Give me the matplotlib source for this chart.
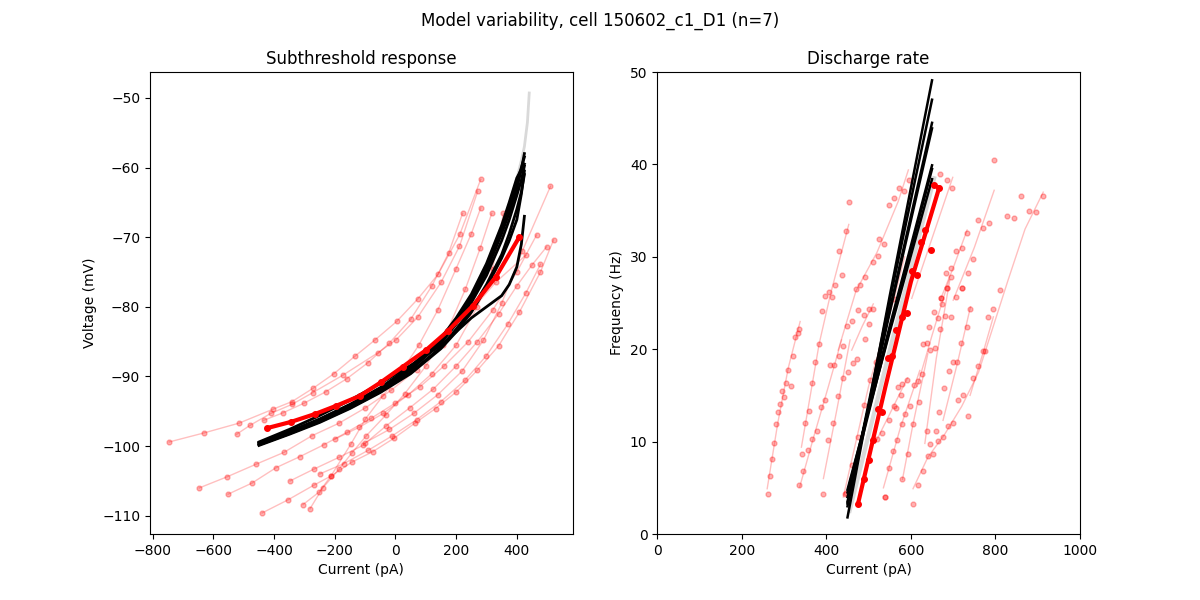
import matplotlib
matplotlib.use("Agg")
import matplotlib.pyplot as plt

OUT = "out.png"
POP = "red"

# ---- left panel: subthreshold response (current pA, voltage mV) ----
pop_iv_x = [
    [-746, -631, -516, -404, -341, -272, -203, -134, -66, 4, 73, 141, 212, 281],
    [-524, -479, -411, -341, -272, -173, -58, 3, 73, 150, 211, 271],
    [-435, -370, -300, -230, -160, -90, -20, 50, 120, 175, 221],
    [-305, -252, -213, -147, -99, -42, 16, 77, 139, 200, 250, 281],
    [-282, -240, -186, -144, -96, -31, 30, 100, 170, 230, 280, 317],
    [-200, -120, -40, 40, 120, 200, 270, 320, 356],
    [-100, -20, 60, 140, 220, 290, 350, 418, 511],
    [-647, -555, -460, -368, -275, -186, -99, -15, 70, 156, 240, 330, 429],
    [-552, -473, -394, -315, -236, -160, -80, 0, 80, 160, 240, 320, 400, 465],
    [-440, -354, -269, -213, -144, -75, -6, 64, 132, 201, 270, 340, 408, 478, 521],
    [-348, -269, -186, -108, -31, 47, 125, 200, 270, 340, 400, 450, 498],
    [-250, -170, -90, -10, 70, 150, 230, 300, 370, 430, 478],
]
pop_iv_y = [
    [-99.4, -98.1, -96.7, -94.7, -93.6, -91.7, -89.6, -87.1, -84.7, -82.1, -78.9, -75.3, -69.6, -61.7],
    [-98.3, -97.0, -95.3, -94.0, -92.3, -89.8, -86.6, -84.7, -81.5, -76.5, -71.3, -63.4],
    [-96.3, -95.2, -93.8, -92.2, -90.3, -88.0, -85.2, -81.8, -77.0, -72.3, -66.6],
    [-108.4, -106.6, -104.3, -99.7, -96.1, -92.8, -89.5, -85.5, -80.5, -74.5, -69.5, -65.8],
    [-109.0, -106.0, -103.3, -101.0, -98.5, -95.5, -92.5, -88.5, -83.5, -77.5, -71.5, -66.6],
    [-99.0, -97.3, -95.3, -92.7, -89.6, -85.5, -80.0, -74.5, -66.6],
    [-99.5, -97.6, -95.3, -92.6, -89.2, -84.8, -79.5, -72.0, -62.7],
    [-106.0, -104.4, -102.6, -100.9, -98.5, -96.7, -94.5, -92.0, -89.0, -85.5, -81.0, -76.5, -72.6],
    [-106.9, -105.3, -103.1, -101.5, -99.8, -98.0, -96.0, -93.8, -91.5, -88.5, -85.0, -80.5, -75.0, -69.7],
    [-109.6, -107.7, -105.6, -104.3, -102.3, -100.8, -98.9, -96.7, -94.6, -92.2, -89.1, -85.6, -80.8, -75.0, -70.4],
    [-105.0, -103.3, -101.6, -99.9, -97.1, -94.5, -91.8, -88.5, -85.0, -81.0, -77.0, -74.0, -71.4],
    [-104.0, -102.5, -100.6, -98.5, -96.2, -93.6, -90.5, -87.0, -82.5, -78.0, -73.9],
]

cell_iv_x = [-422, -343, -266, -195, -118, -47, 24, 101, 172, 254, 331, 408]
cell_iv_y = [-97.4, -96.5, -95.4, -94.2, -92.8, -90.8, -88.6, -86.2, -83.5, -79.9, -75.7, -70.0]

model_iv_x = [-450, -350, -250, -150, -50, 50, 150, 200, 250, 300, 350, 375, 400, 415, 425]
model_iv_y = [
    [-99.8, -98.2, -96.4, -94.3, -91.9, -89.0, -85.0, -82.3, -79.0, -74.8, -69.5, -66.5, -63.0, -60.3, -58.0],
    [-99.6, -98.0, -96.2, -94.1, -91.7, -88.8, -84.8, -82.0, -78.6, -74.2, -68.7, -65.6, -62.0, -60.0, -58.5],
    [-99.5, -97.9, -96.1, -94.0, -91.6, -88.6, -84.5, -81.6, -78.2, -73.8, -68.3, -65.0, -61.5, -60.3, -59.5],
    [-99.9, -98.3, -96.6, -94.6, -92.3, -89.6, -86.0, -83.6, -80.8, -77.2, -73.0, -70.5, -67.5, -63.8, -60.5],
    [-99.4, -97.6, -95.6, -93.4, -91.0, -88.4, -85.5, -83.6, -81.6, -80.0, -78.4, -76.8, -74.3, -71.0, -67.0],
    [-99.8, -98.2, -96.5, -94.5, -92.2, -89.4, -85.8, -83.2, -80.4, -76.8, -72.5, -69.5, -66.0, -63.5, -61.0],
    [-99.6, -98.0, -96.2, -94.1, -91.8, -89.0, -85.2, -82.5, -79.4, -75.5, -70.5, -67.5, -64.0, -61.8, -59.8],
]
grey_iv_x = [-450, -350, -250, -150, -50, 50, 150, 200, 250, 300, 350, 375, 400, 415, 425, 435, 441]
grey_iv_y = [-99.6, -98.0, -96.2, -94.1, -91.7, -88.8, -84.7, -81.8, -78.5, -74.0, -68.4, -65.2,
             -61.6, -59.0, -57.0, -53.5, -49.3]

# ---- right panel: discharge rate (current pA, frequency Hz) ----
pop_fi_line_x = [
    [260, 285, 310, 338],
    [341, 362, 383, 410, 433, 453],
    [337, 370, 405, 436],
    [393, 425, 456],
    [428, 470, 520, 570, 594],
    [460, 485, 511],
    [440, 500, 560, 585],
    [535, 575, 621],
    [515, 550, 592],
    [580, 605, 640],
    [605, 640, 680, 720, 760, 795, 830, 870, 913],
    [633, 660, 692],
    [676, 710, 741],
    [740, 770, 795],
    [669, 700, 733],
    [700, 750, 797],
    [602, 650, 699],
    [615, 650, 690],
]
pop_fi_line_y = [
    [4.9, 12.0, 18.0, 23.0],
    [9.4, 15.0, 20.6, 26.0, 30.0, 33.5],
    [5.1, 10.5, 16.0, 21.0],
    [6.0, 13.5, 21.0],
    [19.9, 26.3, 30.5, 36.0, 39.4],
    [19.9, 22.5, 24.9],
    [4.0, 16.0, 25.4, 30.0],
    [5.0, 11.5, 17.7],
    [9.8, 13.0, 16.9],
    [5.9, 11.9, 19.5],
    [4.9, 8.3, 10.8, 13.8, 17.5, 22.5, 27.5, 33.0, 37.0],
    [9.8, 19.0, 27.5],
    [12.3, 18.5, 24.6],
    [15.0, 19.5, 23.5],
    [25.3, 28.8, 32.9],
    [25.3, 31.0, 37.2],
    [25.5, 32.0, 38.6],
    [16.0, 21.5, 27.5],
]
pop_fi_dot_x = [
    262.7, 267.4, 272.1, 276.9, 281.6, 286.3, 291.1, 295.8, 300.5, 305.3, 317.1, 310, 321.8, 326.5, 332, 336,
    343.1, 350.2, 359.7, 366.8, 373.9, 383.3, 390.4, 397.5, 407, 414, 421.2, 430.6, 437.7, 445.6, 454.3,
    336, 345.5, 357.3, 366.8, 378.6, 387.3, 397.5,
    393, 404.6, 416.5, 428.3, 440.1, 451.1, 439.3, 444.8,
    449.6, 461.4, 470.9, 480.3, 491.4, 511.1, 522.9, 525.3, 537.1, 549, 560.8, 572.6, 583.7, 596.3,
    409.4, 418.8, 430.6, 463.8, 471.7, 475.6, 489.8, 501.6, 511, 501.6, 492.2,
    446.4, 459.8, 475.6, 489.8, 503.2, 517.4, 560.7,
    539.5, 548.9, 558.4, 567.8, 579.7, 586.8, 598.6, 608, 617.5, 627, 538.7,
    520.5, 530.8, 548.1, 560, 564.7, 570.2, 577.3, 578.9, 591.5,
    579.7, 593.9, 605.7, 619.9, 605.7,
    617.5, 629.4, 641.2, 653, 664.8, 676.7, 688.5, 700.3, 712.2, 724, 735.8, 747.6, 759.5, 771.3, 776,
    783.1, 795, 811.5, 828.1, 844.7, 861.2, 880.2, 896.7, 913.3,
    637.2, 645.1, 658.5, 666.4, 679, 689.3, 698.8, 709.8, 719.2, 731.9, 739.8,
    670.4, 682.2, 684.6, 694.8, 694.8, 707.5, 721.7, 733.5,
    721.7, 734.3, 747.7, 759.5, 771.3, 785.5, 797.4,
    669.6, 684.6, 698,
    629.4, 637.2, 643.5, 645.9, 657.7, 655.4, 668.8, 671.1, 674.3, 664.8, 680.6, 686.1, 694.8, 707.4, 721.6,
]
pop_fi_dot_y = [
    4.3, 6.3, 8.1, 9.8, 11.9, 13.2, 14.1, 15.5, 14.8, 16.3, 16.0, 17.8, 19.3, 21.3, 21.8, 22.2,
    8.7, 12.0, 13.3, 16.3, 18.6, 20.6, 24.1, 25.8, 26.2, 25.7, 27.0, 30.6, 28.0, 32.8, 35.9,
    5.3, 6.8, 9.1, 10.3, 11.1, 13.7, 14.5,
    4.3, 10.2, 12.0, 14.9, 16.9, 17.5, 20.4, 4.3,
    22.5, 23.1, 26.5, 27.0, 27.8, 29.4, 30.1, 31.9, 31.4, 35.6, 36.4, 37.4, 37.1, 38.3,
    18.3, 18.3, 19.3, 18.5, 18.9, 24.2, 23.7, 24.4, 24.4, 22.7, 21.1,
    4.4, 7.5, 10.5, 14.0, 16.7, 18.6, 25.4,
    4.0, 7.1, 9.0, 10.2, 11.9, 13.0, 13.9, 16.1, 16.6, 17.3, 4.0,
    10.3, 10.9, 12.3, 13.9, 13.6, 15.9, 15.0, 16.2, 16.7,
    5.9, 8.7, 11.9, 14.3, 3.3,
    5.3, 6.85, 8.4, 8.7, 10.1, 10.5, 11.7, 12.0, 14.5, 15.0, 12.8, 16.9, 18.2, 19.8, 19.8,
    23.5, 24.4, 26.4, 34.4, 34.2, 36.6, 35.0, 34.9, 36.6,
    11.2, 9.7, 11.2, 13.2, 15.8, 17.6, 18.6, 18.6, 20.7, 22.4, 24.4,
    25.5, 28.3, 26.6, 27.8, 28.8, 30.6, 30.9, 32.6,
    26.6, 28.3, 29.8, 34.0, 33.1, 33.7, 40.5,
    39.0, 38.3, 37.4,
    20.6, 20.7, 22.4, 19.9, 20.1, 24.0, 22.2, 25.5, 24.9, 23.4, 23.6, 26.6, 23.5, 25.7, 26.6,
]

cell_fi_line_x = [475, 540, 600, 667]
cell_fi_line_y = [3.3, 16.0, 27.3, 37.5]
cell_fi_dot_x = [475.6, 489, 500.8, 509.5, 521.3, 532.4, 546.5, 556, 564.7, 578, 590, 602.6,
                 613.6, 623, 634.1, 646.7, 654.6, 667.2]
cell_fi_dot_y = [3.3, 6.0, 8.0, 10.2, 13.5, 13.2, 19.1, 19.3, 22.1, 23.5, 23.9, 28.5,
                 28.0, 31.6, 32.9, 30.7, 37.8, 37.5]

model_fi_x = [450, 550, 650]
model_fi_y = [
    [1.8, 25.8, 49.1],
    [3.0, 25.3, 47.0],
    [3.5, 24.0, 43.9],
    [4.5, 22.5, 39.9],
    [4.8, 21.9, 38.4],
    [4.0, 22.2, 39.5],
    [3.3, 24.3, 44.5],
]
grey_fi_x = [455, 555, 655]
grey_fi_y = [2.5, 20.8, 38.5]

fig, (ax1, ax2) = plt.subplots(1, 2, figsize=(12, 6))
fig.suptitle("Model variability, cell 150602_c1_D1 (n=7)")

for xs, ys in zip(pop_iv_x, pop_iv_y):
    ax1.plot(xs, ys, "-", color=POP, alpha=0.25, lw=1)
    ax1.plot(xs, ys, "o", color=POP, alpha=0.3, ms=3.5)
ax1.plot(grey_iv_x, grey_iv_y, color="0.85", lw=2)
for ys in model_iv_y:
    ax1.plot(model_iv_x, ys, color="k", lw=2)
ax1.plot(cell_iv_x, cell_iv_y, "o-", color="red", lw=3, ms=4)
ax1.set_title("Subthreshold response")
ax1.set_xlabel("Current (pA)")
ax1.set_ylabel("Voltage (mV)")

for xs, ys in zip(pop_fi_line_x, pop_fi_line_y):
    ax2.plot(xs, ys, "-", color=POP, alpha=0.25, lw=1)
ax2.plot(pop_fi_dot_x, pop_fi_dot_y, "o", color=POP, alpha=0.3, ms=3.5)
ax2.plot(grey_fi_x, grey_fi_y, color="0.85", lw=3)
for ys in model_fi_y:
    ax2.plot(model_fi_x, ys, color="k", lw=1.8)
ax2.plot(cell_fi_line_x, cell_fi_line_y, color="red", lw=3)
ax2.plot(cell_fi_dot_x, cell_fi_dot_y, "o", color="red", ms=4)
ax2.set_xlim(0, 1000)
ax2.set_ylim(0, 50)
ax2.set_title("Discharge rate")
ax2.set_xlabel("Current (pA)")
ax2.set_ylabel("Frequency (Hz)")

fig.savefig(OUT, dpi=100)
